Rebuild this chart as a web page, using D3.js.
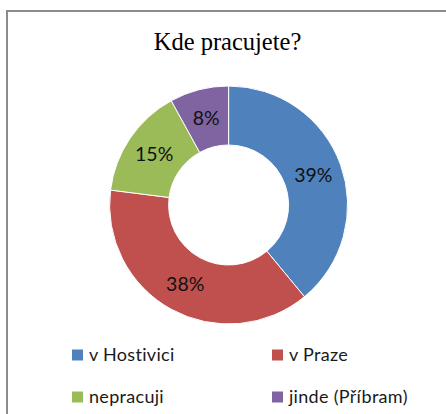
<!DOCTYPE html>
<html>
<head>
<meta charset="utf-8">
<script src="https://cdn.jsdelivr.net/npm/d3@7/dist/d3.min.js"></script>
<style>
  body { margin: 0; background: #fff; }
  svg { display: block; }
</style>
</head>
<body>
<div id="chart"></div>
<script>
// Kde pracujete? - doughnut chart
const categories = ["v Hostivici", "v Praze", "nepracuji", "jinde (Příbram)"];
const shares = [39, 38, 15, 8];
const colors = ["#4F81BD", "#C0504D", "#9BBB59", "#8064A2"];

const width = 446, height = 414;
const cx = 228.6, cy = 205;
const outerR = 119, innerR = 60;

const svg = d3.select("#chart").append("svg")
    .attr("width", width)
    .attr("height", height);

// Chart frame (only top and left edges visible)
svg.append("path")
    .attr("d", `M7,${height} L7,11 L${width},11`)
    .attr("fill", "none")
    .attr("stroke", "#8c8c8c")
    .attr("stroke-width", 2);

// Title
svg.append("text")
    .attr("x", 227.5)
    .attr("y", 50)
    .attr("text-anchor", "middle")
    .style("font-family", "'Liberation Serif', 'Times New Roman', serif")
    .style("font-size", "24.5px")
    .attr("fill", "#000")
    .text("Kde pracujete?");

const data = categories.map((c, i) => ({name: c, value: shares[i], color: colors[i]}));

const pie = d3.pie()
    .value(d => d.value)
    .sort(null);

const arc = d3.arc()
    .innerRadius(innerR)
    .outerRadius(outerR);

const labelArc = d3.arc()
    .innerRadius(90)
    .outerRadius(90);

const g = svg.append("g")
    .attr("transform", `translate(${cx},${cy})`);

const arcs = pie(data);

g.selectAll("path.slice")
    .data(arcs)
    .enter()
    .append("path")
    .attr("class", "slice")
    .attr("d", arc)
    .attr("fill", d => d.data.color)
    .attr("stroke", "#fff")
    .attr("stroke-width", 1);

g.selectAll("text.label")
    .data(arcs)
    .enter()
    .append("text")
    .attr("class", "label")
    .attr("transform", d => `translate(${labelArc.centroid(d)})`)
    .attr("text-anchor", "middle")
    .attr("dy", "0.36em")
    .style("font-family", "Lato, 'Open Sans', sans-serif")
    .style("font-size", "19.5px")
    .attr("fill", "#111")
    .text(d => d.data.value + "%");

// Legend (2 x 2)
const legendX = [72, 272];
const legendY = [355, 397];

const legend = svg.append("g");

data.forEach((d, i) => {
    const x = legendX[i % 2];
    const y = legendY[Math.floor(i / 2)];
    const item = legend.append("g")
        .attr("transform", `translate(${x},${y})`);
    item.append("rect")
        .attr("x", 0)
        .attr("y", -5.5)
        .attr("width", 11)
        .attr("height", 11)
        .attr("fill", d.color);
    item.append("text")
        .attr("x", 17)
        .attr("y", 0)
        .attr("dy", "0.36em")
        .style("font-family", "Lato, 'Open Sans', sans-serif")
        .style("font-size", "18px")
        .style("letter-spacing", "0.3px")
        .attr("fill", "#1a1a1a")
        .text(d.name);
});
</script>
</body>
</html>
